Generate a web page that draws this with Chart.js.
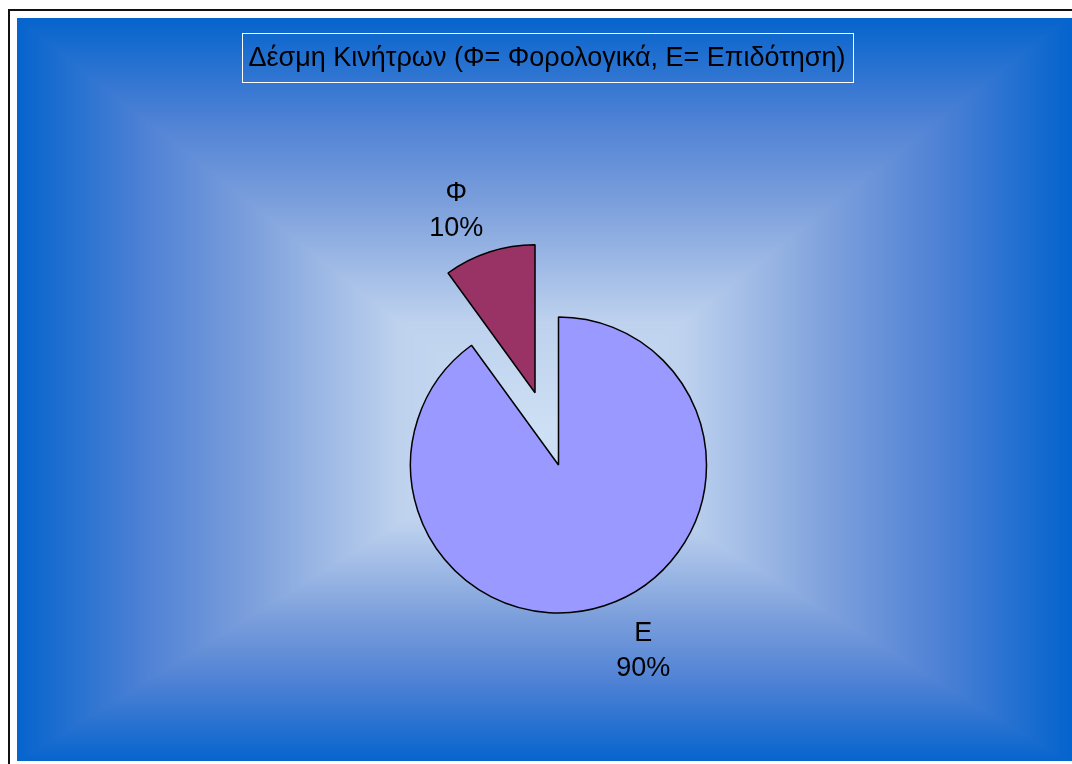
<!DOCTYPE html>
<html>
<head>
<meta charset="utf-8">
<script src="https://cdn.jsdelivr.net/npm/chart.js@4.4.0/dist/chart.umd.min.js"></script>
<style>
  html, body { margin: 0; padding: 0; background: #fff; }
  canvas { display: block; }
</style>
</head>
<body>
<canvas id="incentivesPie" width="1072" height="764"></canvas>
<script>
// Chart data
const titleText = 'Δέσμη Κινήτρων (Φ= Φορολογικά, Ε= Επιδότηση)';
const categories = ['Ε', 'Φ'];
const shares = [90, 10];

// Styles
const sliceColors = ['#9999ff', '#993366'];
const explodePx = [0, 76]; // Φ is pulled out of the pie
const FONT = '"Liberation Sans", Arial, sans-serif';

// Blue panel behind the plot, Excel style "from center" gradient
// (focus point is not in the middle of the box)
const panel = { left: 17, top: 18, right: 1072, bottom: 761 };
const gradBox = { left: 17, top: 18, right: 1068, bottom: 762 };
const gradFocus = { x: 541, y: 435 };
const gradStops = [
  [0, [205, 224, 244]],
  [0.27, [190, 210, 238]],
  [0.55, [125, 160, 220]],
  [0.75, [80, 130, 213]],
  [1, [5, 100, 205]]
];

function stopColor(t) {
  for (let i = 1; i < gradStops.length; i++) {
    if (t <= gradStops[i][0]) {
      const [t0, c0] = gradStops[i - 1];
      const [t1, c1] = gradStops[i];
      const k = (t - t0) / (t1 - t0);
      return c0.map((v, j) => v + (c1[j] - v) * k);
    }
  }
  return gradStops[gradStops.length - 1][1];
}

function buildPanel() {
  const w = panel.right - panel.left;
  const h = panel.bottom - panel.top;
  const c = document.createElement('canvas');
  c.width = w;
  c.height = h;
  const g = c.getContext('2d');
  const img = g.createImageData(w, h);
  const cx = gradFocus.x, cy = gradFocus.y;
  let p = 0;
  for (let y = 0; y < h; y++) {
    const py = panel.top + y + 0.5;
    const dy = py < cy ? (cy - py) / (cy - gradBox.top) : (py - cy) / (gradBox.bottom - cy);
    for (let x = 0; x < w; x++) {
      const px = panel.left + x + 0.5;
      const dx = px < cx ? (cx - px) / (cx - gradBox.left) : (px - cx) / (gradBox.right - cx);
      const col = stopColor(Math.min(1, Math.max(dx, dy)));
      img.data[p++] = col[0];
      img.data[p++] = col[1];
      img.data[p++] = col[2];
      img.data[p++] = 255;
    }
  }
  g.putImageData(img, 0, 0);
  return c;
}
const panelImage = buildPanel();

const backgroundPlugin = {
  id: 'background',
  beforeDraw(chart) {
    const ctx = chart.ctx;
    ctx.save();
    ctx.fillStyle = '#fff';
    ctx.fillRect(0, 0, chart.width, chart.height);
    ctx.strokeStyle = '#111';
    ctx.lineWidth = 2;
    ctx.strokeRect(9, 10, 1200, 1000);
    ctx.drawImage(panelImage, panel.left, panel.top);

    // boxed title
    ctx.font = '27px ' + FONT;
    ctx.fillStyle = '#000';
    ctx.textAlign = 'center';
    ctx.textBaseline = 'alphabetic';
    const tw = ctx.measureText(titleText).width;
    const bx = 547;
    ctx.fillText(titleText, bx, 66);
    ctx.strokeStyle = '#fff';
    ctx.lineWidth = 1;
    ctx.strokeRect(Math.round(bx - tw / 2 - 7) + 0.5, 33.5, Math.round(tw + 14), 49);
    ctx.restore();
  }
};

// draw each slice, shifting exploded ones along their mid angle
const explodePlugin = {
  id: 'explode',
  beforeDatasetDraw(chart, args) {
    const ctx = chart.ctx;
    args.meta.data.forEach((arc, i) => {
      const mid = (arc.startAngle + arc.endAngle) / 2;
      ctx.save();
      ctx.translate(Math.cos(mid) * explodePx[i], Math.sin(mid) * explodePx[i]);
      arc.draw(ctx);
      ctx.restore();
    });
    return false;
  }
};

const labelPlugin = {
  id: 'sliceLabels',
  afterDatasetsDraw(chart) {
    const ctx = chart.ctx;
    const meta = chart.getDatasetMeta(0);
    const total = shares.reduce((a, b) => a + b, 0);
    ctx.save();
    ctx.font = '27px ' + FONT;
    ctx.fillStyle = '#000';
    ctx.textAlign = 'center';
    ctx.textBaseline = 'alphabetic';
    meta.data.forEach((arc, i) => {
      const mid = (arc.startAngle + arc.endAngle) / 2;
      const r = arc.outerRadius + explodePx[i];
      const ax = arc.x + Math.cos(mid) * r;
      const ay = arc.y + Math.sin(mid) * r;
      const lx = ax + Math.sign(Math.cos(mid)) * 36 + 3;
      const ly = ay + Math.sign(Math.sin(mid)) * 43;
      const pct = Math.round(shares[i] / total * 100) + '%';
      ctx.fillText(categories[i], lx, ly - 8);
      ctx.fillText(pct, lx, ly + 27);
    });
    ctx.restore();
  }
};

const ctx = document.getElementById('incentivesPie').getContext('2d');

new Chart(ctx, {
  type: 'pie',
  data: {
    labels: categories,
    datasets: [{
      data: shares,
      backgroundColor: sliceColors,
      borderColor: '#000',
      borderWidth: 1.5,
      radius: 148
    }]
  },
  options: {
    responsive: false,
    animation: false,
    events: [],
    layout: {
      padding: { left: 45, top: 166, right: 0, bottom: 0 }
    },
    plugins: {
      legend: { display: false },
      tooltip: { enabled: false },
      title: { display: false }
    }
  },
  plugins: [backgroundPlugin, explodePlugin, labelPlugin]
});
</script>
</body>
</html>
